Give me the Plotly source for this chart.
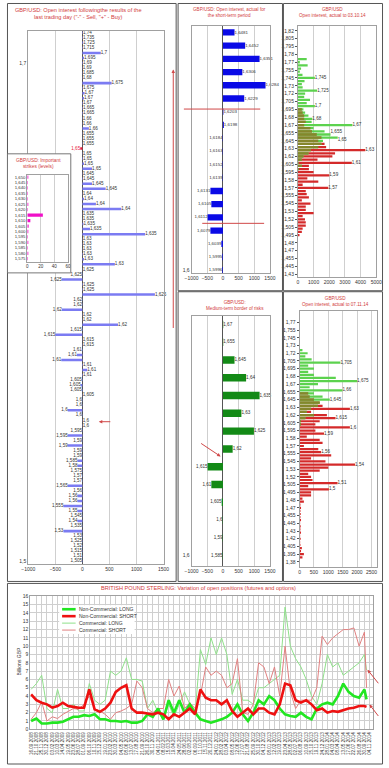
import plotly.graph_objects as go
import pandas as pd

# ================= DATA =================
# Left panel: open interest after the last trading day ("-" sell, "+" buy)
left_strikes = ["1,74","1,735","1,725","1,715","1,7","1,695","1,69","1,69","1,685","1,68",
 "1,675","1,675","1,67","1,67","1,67","1,665","1,665","1,66","1,66","1,66",
 "1,655","1,655","1,655","1,65","1,65","1,65","1,65","1,65","1,645","1,645",
 "1,645","1,645","1,64","1,64","1,64","1,64","1,635","1,635","1,635","1,635",
 "1,635","1,63","1,63","1,63","1,63","1,63","1,63","1,625","1,625","1,625",
 "1,625","1,625","1,625","1,62","1,62","1,62","1,62","1,62","1,62","1,615",
 "1,615","1,615","1,615","1,61","1,61","1,61","1,61","1,61","1,61","1,605",
 "1,605","1,605","1,605","1,6","1,6","1,6","1,6","1,6","1,6","1,595",
 "1,595","1,59","1,59","1,59","1,59","1,585","1,58","1,575","1,57","1,57",
 "1,565","1,56","1,56","1,56","1,555","1,55","1,545","1,54","1,535","1,53",
 "1,53","1,525","1,52","1,515","1,51","1,505"]
left_oi = [10,10,15,10,340,30,10,5,5,5,
 540,10,40,30,10,10,10,5,5,120,
 5,5,5,-40,5,10,30,180,5,10,
 180,430,5,30,250,720,5,5,20,140,
 1160,5,5,5,10,30,600,5,-5,-380,
 10,10,1340,-5,-5,-380,5,5,660,-10,
 -500,5,5,-10,-100,-390,10,90,10,-10,
 -30,-10,5,-5,-5,-270,-5,5,5,-5,
 -270,-5,-270,-5,-5,-90,-90,-5,-5,-5,
 -270,-5,-90,-90,-350,-90,-5,-90,-5,-350,
 -5,-5,-5,-5,-5,-5]
left_axis_labels = ["1,7", "1,5"]

# Inset: important strikes (levels)
inset_strikes = ["1,650","1,645","1,640","1,635","1,630","1,625","1,620","1,615",
                 "1,610","1,605","1,600","1,595","1,590","1,585","1,580","1,575"]
inset_values = [1.5,1,1,1,1,1.5,1,23,4.5,2,1.5,1,1.5,1,1.5,1]

# Middle top: short-term period
mt_strikes = ["1,6481","1,6452","1,6351","1,6306","1,6284","1,6229","1,6203","1,6198","1,6184",
              "1,6163","1,6152","1,6139","1,6131","1,6105","1,6112","1,6079","1,6039","1,5995","1,5996"]
mt_values = [370,710,1170,620,1360,680,15,30,-10,-10,-10,-10,-400,-370,-490,-400,-50,-20,-20]

# Middle bottom: medium-term border of risks
mb_strikes = ["1,67","1,655","1,645","1,64","1,635","1,63","1,625","1,62","1,615","1,61","1,605","1,6","1,59","1,585"]
mb_values = [10,10,370,740,1170,590,990,310,-490,-370,-40,-10,-10,-10]

# Right top: open interest actual to 03.10.14 (strikes 1.820 .. 1.430, step 0.005)
rt_strikes = [round(1.820 - 0.005 * i, 3) for i in range(79)]
rt_calls = [0,0,0,0,0,0,0,0,0,
 560,120,620,200,120,290,1080,420,250,300,
 1230,460,400,770,560,1080,350,460,670,920,
 875,3480,1000,1700,2080,2540,1600,1500,1290,830,
 670,350,250,40,250,60,
 0,0,0,0,0,0,0,0,0,0,0,0,0,0,0,0,0,0,0,0,0,0,0,0,0,0,0,0,0,0,0,0,0,0]
rt_puts = [0,0,0,0,0,0,0,0,0,0,0,0,0,0,0,0,0,0,0,0,0,0,0,0,0,
 250,300,400,400,500,400,800,900,1200,1500,
 1300,1700,1800,4300,2370,2200,1250,3440,700,700,
 1000,2000,600,1300,300,1940,500,560,700,250,
 800,500,500,1000,300,450,500,500,300,250,
 100,0,0,0,0,0,0,0,0,0,0,0,0,0]
rt_tick_text = ["1,82","1,805","1,795","1,78","1,77","1,755","1,745","1,73","1,72","1,705","1,695",
 "1,68","1,67","1,655","1,645","1,63","1,62","1,605","1,595","1,58","1,57","1,555","1,545",
 "1,53","1,52","1,505","1,495","1,48","1,47","1,455","1,445","1,43"]
rt_call_labels = [1.745, 1.725, 1.70, 1.68, 1.67, 1.655, 1.65]
rt_put_labels = [1.63, 1.61, 1.59, 1.57]

# Right bottom: open interest actual to 07.11.14 (strikes 1.770 .. 1.380)
rb_strikes = [round(1.770 - 0.005 * i, 3) for i in range(79)]
rb_calls = [0,0,0,0,0,0,0,0,0,
 100,280,200,420,1420,300,500,300,500,1260,
 2000,640,350,1490,500,800,1050,700,640,400,
 250,500,200,50,50,
 0,0,0,0,0,0,0,0,0,0,0,0,0,0,0,0,0,0,0,0,0,0,0,0,0,
 0,0,0,0,0,0,0,0,0,0,0,0,0,0,0,0,0,0,0,0]
rb_puts = [0,0,0,0,0,0,0,0,0,0,0,0,0,0,0,0,0,0,0,0,0,0,0,
 300,350,500,700,800,1750,400,950,1250,700,
 550,1750,550,850,250,700,800,150,650,750,
 1100,400,900,1930,1000,700,300,400,450,1320,
 300,1020,400,400,100,150,30,50,30,40,
 30,50,20,40,30,50,20,40,20,30,
 80,50,150,100,0,0]
rb_tick_text = ["1,77","1,755","1,745","1,73","1,72","1,705","1,695","1,68","1,67","1,655","1,645",
 "1,63","1,62","1,605","1,595","1,58","1,57","1,555","1,545","1,53","1,52","1,505","1,495",
 "1,48","1,47","1,455","1,445","1,43","1,42","1,405","1,395","1,38"]
rb_call_labels = [1.705, 1.675, 1.66, 1.645]
rb_put_labels = [1.63, 1.615, 1.60, 1.59, 1.56, 1.54, 1.51, 1.50]

# Bottom: British pound sterling, open positions (billions GBP), sampled every 5 weeks + last report
cot_dates = list(pd.date_range("2008-09-16", periods=64, freq="35D")) + [pd.Timestamp("2014-10-14")]
nc_long = [1.0,1.3,0.7,0.7,0.8,0.8,0.9,1.2,1.5,1.5,1.7,1.6,1.8,1.2,1.2,1.0,1.0,0.9,1.0,0.8,
 0.8,1.0,1.8,1.5,2.5,1.2,3.5,2.0,3.5,2.0,3.0,2.0,1.2,1.0,0.8,1.0,1.2,1.5,2.0,3.0,
 1.8,1.0,2.0,3.5,3.0,4.0,3.5,2.5,1.8,1.6,1.5,2.0,1.5,1.2,2.5,3.0,3.2,3.0,4.0,5.5,
 4.5,4.0,3.8,4.8,3.6]
nc_short = [4.2,3.5,3.2,3.0,2.6,2.8,3.2,2.8,2.7,2.6,2.6,4.8,2.4,2.1,2.5,3.2,4.5,5.0,5.3,2.5,
 2.0,2.0,1.9,1.8,2.0,1.8,1.2,1.8,1.5,2.0,2.5,1.8,4.8,3.8,3.5,3.5,3.0,3.5,2.2,1.5,
 2.0,2.5,1.8,2.5,2.5,2.0,1.8,3.0,5.5,5.3,3.5,3.2,3.5,3.0,2.3,2.5,2.0,2.2,2.1,2.3,
 2.5,2.6,2.8,2.8,2.7]
c_long = [4.8,5.5,6.5,2.5,2.0,4.8,2.5,2.5,3.0,2.2,2.2,5.5,3.5,3.0,3.5,7.0,6.5,7.0,8.6,6.0,
 6.0,5.8,2.5,3.5,2.0,1.2,3.0,1.5,3.0,4.5,3.0,2.0,9.6,7.8,11.0,9.0,11.0,9.0,4.2,6.0,
 3.5,3.5,3.0,5.0,5.0,5.5,6.0,6.5,14.7,10.0,8.5,7.5,6.0,4.0,3.0,5.5,9.0,7.5,8.0,6.5,
 7.0,7.5,8.0,9.0,7.1]
c_short = [1.2,2.0,3.3,1.0,1.5,1.3,1.8,2.2,2.5,2.4,3.0,4.0,2.5,2.2,1.8,1.2,2.0,2.2,2.5,3.0,
 5.8,5.0,2.5,2.0,2.5,2.5,6.0,4.0,5.2,2.5,3.2,2.5,4.0,7.5,6.5,7.0,6.5,5.0,5.5,8.5,
 2.0,1.8,3.0,8.0,7.5,5.5,7.5,4.0,10.0,4.5,2.5,3.5,3.5,3.5,5.0,11.2,10.2,11.0,11.5,12.0,
 12.0,12.2,10.0,11.7,5.0]
cot_names = ["Non-Commercial: LONG", "Non-Commercial: SHORT", "Commercial: LONG", "Commercial: SHORT"]

# ================= STYLE / LAYOUT HELPERS =================
W, H = 389, 768
FONT = "Arial, Liberation Sans, sans-serif"
RED_T = "#d23c3c"
TXT = "#333333"
GRID = "#cfcfcf"
FRAME = "#a0a0a0"
HIGHLIGHT_ROW = 23


def xd(a, b):
    return [a / W, b / W]


def yd(top, bot):
    return [1 - bot / H, 1 - top / H]


def px(x):
    return x / W


def py(y):
    return 1 - y / H


def fmt_strike(s):
    return ("%.3f" % s).rstrip("0").rstrip(".").replace(".", ",")


fig = go.Figure()

# ---------- left main panel ----------
rows = list(range(len(left_oi)))
bar_cols = ["#e8203c" if i == HIGHLIGHT_ROW else "#7b7bf2" for i in rows]
fig.add_trace(go.Bar(x=left_oi, y=rows, orientation="h", width=0.5, marker=dict(color=bar_cols, line=dict(width=0)),
                     xaxis="x", yaxis="y", hoverinfo="skip"))
fig.add_trace(go.Scatter(x=left_oi, y=rows, mode="text", text=left_strikes,
                         textposition=["middle right" if v > 0 else "middle left" for v in left_oi],
                         textfont=dict(size=4.6, family=FONT,
                                       color=["#e8203c" if i == HIGHLIGHT_ROW else TXT for i in rows]),
                         cliponaxis=False, xaxis="x", yaxis="y", hoverinfo="skip"))

# ---------- inset white background ----------
fig.add_trace(go.Scatter(x=[0, 1, 1, 0, 0], y=[0, 0, 1, 1, 0], fill="toself", fillcolor="white",
                         mode="lines", line=dict(width=0, color="white"), xaxis="x2", yaxis="y2", hoverinfo="skip"))

# ---------- inset bars ----------
fig.add_trace(go.Bar(x=inset_values, y=list(range(len(inset_values))), orientation="h", width=0.6,
                     marker=dict(color="#f010c8", line=dict(width=0)), xaxis="x3", yaxis="y3", hoverinfo="skip"))

# ---------- middle top ----------
mrows = list(range(len(mt_values)))
fig.add_trace(go.Bar(x=mt_values, y=mrows, orientation="h", width=0.48,
                     marker=dict(color="#0a0ae6", line=dict(width=0)), xaxis="x4", yaxis="y4", hoverinfo="skip"))
fig.add_trace(go.Scatter(x=mt_values, y=mrows, mode="text", text=mt_strikes,
                         textposition=["middle right" if v > 0 else "middle left" for v in mt_values],
                         textfont=dict(size=4.4, family=FONT, color=TXT), cliponaxis=False,
                         xaxis="x4", yaxis="y4", hoverinfo="skip"))

# ---------- right top ----------
RED_B, GREEN_B, OLIVE_B = "#d42a2a", "#5cd24e", "#86862c"
fig.add_trace(go.Bar(x=rt_puts, y=rt_strikes, orientation="h", width=0.0036,
                     marker=dict(color=RED_B, line=dict(width=0)), xaxis="x5", yaxis="y5", hoverinfo="skip"))
fig.add_trace(go.Bar(x=rt_calls, y=rt_strikes, orientation="h", width=0.0036,
                     marker=dict(color=GREEN_B, line=dict(width=0)), xaxis="x5", yaxis="y5", hoverinfo="skip"))
fig.add_trace(go.Bar(x=[min(a, b) for a, b in zip(rt_calls, rt_puts)], y=rt_strikes, orientation="h", width=0.0036,
                     marker=dict(color=OLIVE_B, line=dict(width=0)), xaxis="x5", yaxis="y5", hoverinfo="skip"))
rt_lab = rt_call_labels + rt_put_labels
rt_lab_x = [rt_calls[rt_strikes.index(s)] for s in rt_call_labels] + [rt_puts[rt_strikes.index(s)] for s in rt_put_labels]
rt_pos = ["top right" if s == 1.655 else ("bottom right" if s == 1.65 else "middle right") for s in rt_lab]
fig.add_trace(go.Scatter(x=rt_lab_x, y=rt_lab, mode="text", text=[fmt_strike(s) for s in rt_lab],
                         textposition=rt_pos, textfont=dict(size=4.6, family=FONT, color=TXT),
                         cliponaxis=False, xaxis="x5", yaxis="y5", hoverinfo="skip"))

# ---------- middle bottom ----------
brow = list(range(len(mb_values)))
fig.add_trace(go.Bar(x=mb_values, y=brow, orientation="h", width=0.42,
                     marker=dict(color="#138a16", line=dict(width=0)), xaxis="x6", yaxis="y6", hoverinfo="skip"))
fig.add_trace(go.Scatter(x=mb_values, y=brow, mode="text", text=mb_strikes,
                         textposition=["middle right" if v > 0 else "middle left" for v in mb_values],
                         textfont=dict(size=4.6, family=FONT, color=TXT), cliponaxis=False,
                         xaxis="x6", yaxis="y6", hoverinfo="skip"))

# ---------- right bottom ----------
fig.add_trace(go.Bar(x=rb_puts, y=rb_strikes, orientation="h", width=0.0036,
                     marker=dict(color=RED_B, line=dict(width=0)), xaxis="x7", yaxis="y7", hoverinfo="skip"))
fig.add_trace(go.Bar(x=rb_calls, y=rb_strikes, orientation="h", width=0.0036,
                     marker=dict(color=GREEN_B, line=dict(width=0)), xaxis="x7", yaxis="y7", hoverinfo="skip"))
fig.add_trace(go.Bar(x=[min(a, b) for a, b in zip(rb_calls, rb_puts)], y=rb_strikes, orientation="h", width=0.0036,
                     marker=dict(color=OLIVE_B, line=dict(width=0)), xaxis="x7", yaxis="y7", hoverinfo="skip"))
rb_lab = rb_call_labels + rb_put_labels
rb_lab_x = [rb_calls[rb_strikes.index(s)] for s in rb_call_labels] + [rb_puts[rb_strikes.index(s)] for s in rb_put_labels]
fig.add_trace(go.Scatter(x=rb_lab_x, y=rb_lab, mode="text", text=[fmt_strike(s) for s in rb_lab],
                         textposition="middle right", textfont=dict(size=4.6, family=FONT, color=TXT),
                         cliponaxis=False, xaxis="x7", yaxis="y7", hoverinfo="skip"))

# ---------- bottom time series ----------
cot_series = [c_long, c_short, nc_long, nc_short]
cot_order_names = [cot_names[2], cot_names[3], cot_names[0], cot_names[1]]
cot_colors = ["#8fe08a", "#e08080", "#22e622", "#ee1111"]
cot_widths = [1, 1, 2.6, 2.6]
for ser, nm, col, wd in zip(cot_series, cot_order_names, cot_colors, cot_widths):
    fig.add_trace(go.Scatter(x=cot_dates, y=ser, mode="lines", name=nm, line=dict(color=col, width=wd),
                             xaxis="x8", yaxis="y8", hoverinfo="skip", showlegend=False))

# ================= AXES =================
tick5 = dict(size=5, family=FONT, color=TXT)
common_x = dict(showgrid=True, gridcolor=GRID, gridwidth=1, showline=True, linecolor=FRAME, mirror=True,
                ticks="", tickfont=tick5, fixedrange=True)
common_y = dict(showgrid=False, showline=True, linecolor=FRAME, mirror=True, ticks="", tickfont=tick5,
                fixedrange=True, zeroline=False)

DAY = 86400000
start = pd.Timestamp("2008-09-16")
layout_axes = dict(
    xaxis=dict(common_x, domain=xd(22, 162), range=[-1000, 1500], dtick=500, anchor="y",
               zeroline=True, zerolinecolor="#555555", zerolinewidth=1),
    yaxis=dict(common_y, domain=yd(28, 565), range=[105.45, -0.4], tickmode="array", tickvals=[6, 105],
               ticktext=left_axis_labels, anchor="x"),
    xaxis2=dict(domain=xd(1, 66), range=[0, 1], visible=False, anchor="y2", fixedrange=True),
    yaxis2=dict(domain=yd(152, 272), range=[0, 1], visible=False, anchor="x2", fixedrange=True),
    xaxis3=dict(common_x, domain=xd(21, 63), range=[0, 60], dtick=20, anchor="y3",
                tickfont=dict(size=4.5, family=FONT, color=TXT), zeroline=False),
    yaxis3=dict(common_y, domain=yd(173, 261), range=[15.6, -0.45], tickmode="array",
                tickvals=list(range(len(inset_strikes))), ticktext=inset_strikes, anchor="x3",
                tickfont=dict(size=4.3, family=FONT, color=TXT)),
    xaxis4=dict(common_x, domain=xd(191, 272), range=[-1000, 1500], dtick=500, anchor="y4",
                zeroline=True, zerolinecolor="#555555", zerolinewidth=1),
    yaxis4=dict(common_y, domain=yd(23, 272), range=[18.2, -0.5], tickmode="array", tickvals=[18],
                ticktext=["1,6"], anchor="x4"),
    xaxis5=dict(common_x, domain=xd(301, 382), range=[0, 5000], dtick=1000, anchor="y5", zeroline=False),
    yaxis5=dict(common_y, domain=yd(23, 276), range=[1.4284, 1.828], tickmode="array",
                tickvals=[1.82 - 0.0125 * k for k in range(len(rt_tick_text))], ticktext=rt_tick_text,
                anchor="x5", ticks="outside", ticklen=2, tickcolor="#555555"),
    xaxis6=dict(common_x, domain=xd(191, 272), range=[-1000, 1500], dtick=500, anchor="y6",
                zeroline=True, zerolinecolor="#555555", zerolinewidth=1),
    yaxis6=dict(common_y, domain=yd(315, 567), range=[13.56, -0.5], tickmode="array", tickvals=[13],
                ticktext=["1,6"], anchor="x6"),
    xaxis7=dict(common_x, domain=xd(302.7, 383), range=[0, 2700], dtick=500, anchor="y7", zeroline=False),
    yaxis7=dict(common_y, domain=yd(310, 568), range=[1.375, 1.789], tickmode="array",
                tickvals=[1.77 - 0.0125 * k for k in range(len(rb_tick_text))], ticktext=rb_tick_text,
                anchor="x7", ticks="outside", ticklen=2, tickcolor="#555555"),
    xaxis8=dict(common_x, domain=xd(24, 379), type="date",
                range=[start - pd.Timedelta(days=6), start + pd.Timedelta(days=int(64.7 * 35))],
                tick0=start, dtick=35 * DAY, tickformat="%d.%m.%Y", tickangle=-90,
                tickfont=dict(size=4.6, family=FONT, color=TXT), anchor="y8", zeroline=False),
    yaxis8=dict(common_y, domain=yd(598, 732), range=[0, 16], dtick=1, showgrid=True, gridcolor=GRID,
                anchor="x8"),
)

# ================= SHAPES =================
shapes = []
border = dict(type="rect", xref="paper", yref="paper", line=dict(color="#555555", width=1), layer="above")
for (a, t, b, bt) in [(0.5, 0.5, 175, 583), (177, 0.5, 285, 290), (286, 0.5, 388.5, 290),
                      (177, 291, 285, 583), (286, 291, 388.5, 583), (0.5, 585, 388.5, 767)]:
    shapes.append(dict(border, x0=px(a), x1=px(b), y0=py(bt), y1=py(t)))
shapes.append(dict(type="rect", xref="paper", yref="paper", x0=px(0.5), x1=px(66), y0=py(272), y1=py(152),
                   line=dict(color="#777777", width=1), layer="above"))
# price level lines in short-term panel
for yv, xa, xb in [(5.8, 183, 262), (14.45, 202, 266)]:
    shapes.append(dict(type="line", xref="paper", yref="y4", x0=px(xa), x1=px(xb), y0=yv, y1=yv,
                       line=dict(color="#d04848", width=1), layer="above"))
# legend box + line samples (bottom chart)
shapes.append(dict(type="rect", xref="paper", yref="paper", x0=px(54), x1=px(132), y0=py(636), y1=py(607),
                   fillcolor="white", line=dict(width=0), layer="above"))
leg_y = [611, 618, 625, 632]
leg_cols = ["#22e622", "#ee1111", "#8fe08a", "#e08080"]
leg_w = [2.6, 2.6, 1, 1]
for yy, c, wdt in zip(leg_y, leg_cols, leg_w):
    shapes.append(dict(type="line", xref="paper", yref="paper", x0=px(57), x1=px(71), y0=py(yy), y1=py(yy),
                       line=dict(color=c, width=wdt), layer="above"))

# ================= ANNOTATIONS =================
ann = []


def title(x, y, text, size=5.5, color=RED_T):
    ann.append(dict(xref="paper", yref="paper", x=px(x), y=py(y), text=text, showarrow=False,
                    font=dict(size=size, family=FONT, color=color), xanchor="center", yanchor="middle", align="center"))


title(74, 11, "GBP/USD: Open interest followingthe results of the<br>last trading day (\"-\" - Sell, \"+\" - Buy)", 5.6)
title(33, 162, "GBP/USD: Important<br>strikes (levels)", 4.8)
title(230, 10, "GBP/USD: Open interest, actual for<br>the short-term period", 4.6)
title(337, 9.5, "GBP/USD<br>Open interest, actual to 03.10.14", 4.6)
title(236, 304.5, "GBP/USD:<br>Medium-term border of risks", 4.6)
title(340, 301, "GBP/USD<br>Open interest, actual to 07.11.14", 4.6)
title(198, 589.5, "BRITISH POUND STERLING: Variation of open positions (futures and options)", 5.6)
ann.append(dict(xref="paper", yref="paper", x=px(7), y=py(680), text="Billions GBP", textangle=-90,
                showarrow=False, font=dict(size=5, family=FONT, color=TXT)))
for yy, nm in zip(leg_y, cot_names):
    ann.append(dict(xref="paper", yref="paper", x=px(72), y=py(yy), text=nm, showarrow=False, xanchor="left",
                    yanchor="middle", font=dict(size=5, family=FONT, color=TXT)))


def arrow(hx, hy, tx, ty):
    ann.append(dict(xref="paper", yref="paper", x=px(hx), y=py(hy), ax=tx - hx, ay=ty - hy, text="",
                    showarrow=True, arrowhead=2, arrowsize=0.7, arrowwidth=1, arrowcolor="#d04848"))


arrow(172, 67, 172, 327)
arrow(95, 422, 108, 422)
arrow(221, 457, 200, 443)
arrow(373, 672, 385, 687)
arrow(375, 707, 385, 720)

fig.update_layout(
    width=W, height=H, autosize=False, margin=dict(l=0, r=0, t=0, b=0),
    paper_bgcolor="white", plot_bgcolor="white", barmode="overlay", showlegend=False,
    font=dict(family=FONT, size=5, color=TXT), shapes=shapes, annotations=ann, **layout_axes,
)

fig.write_html("out.html", config={"displayModeBar": False, "staticPlot": True},
               post_script="document.body.style.margin='0';document.body.style.overflow='hidden';")
